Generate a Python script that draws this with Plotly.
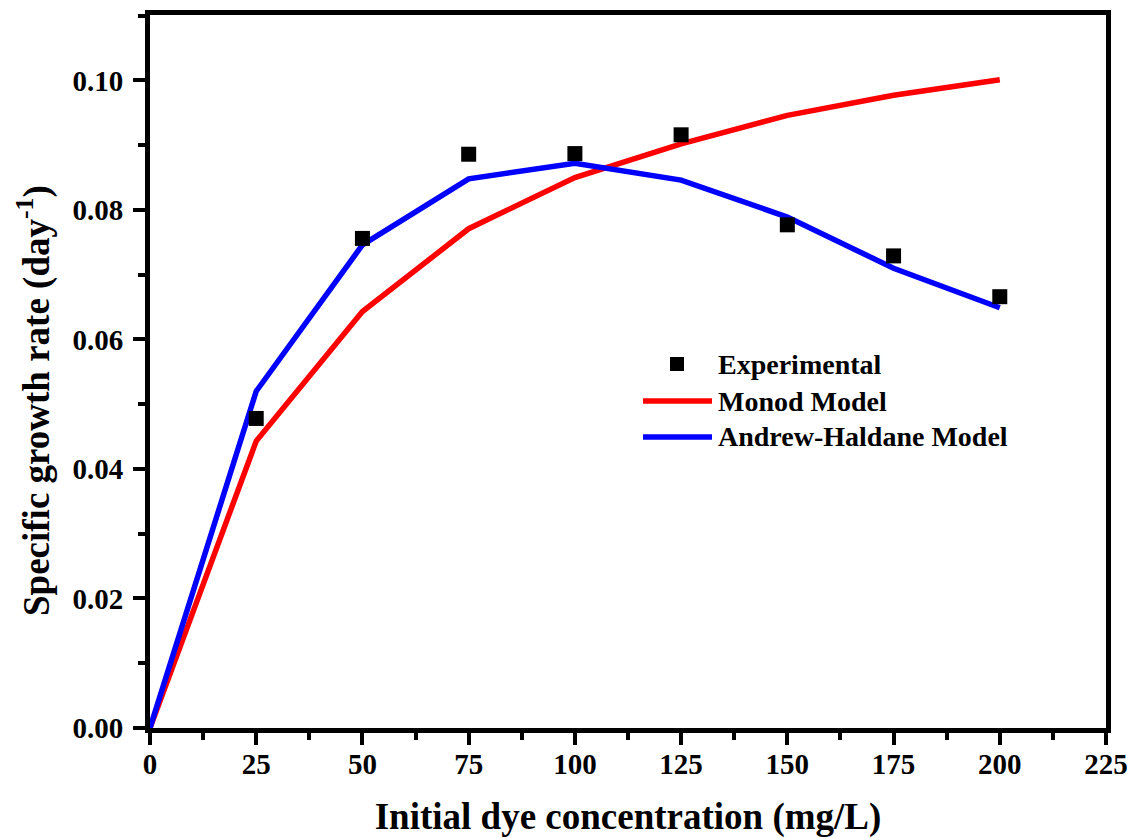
import plotly.graph_objects as go

# Initial dye concentration (mg/L)
conc_exp = [25, 50, 75, 100, 125, 150, 175, 200]
# Measured specific growth rate (day^-1)
mu_exp = [0.0478, 0.0756, 0.0886, 0.0887, 0.0916, 0.0777, 0.0729, 0.0666]

# Model curves
conc_model = [0, 25, 50, 75, 100, 125, 150, 175, 200]
mu_monod = [0.0, 0.0443, 0.0643, 0.0771, 0.0850, 0.0902, 0.0946, 0.0977, 0.1001]
mu_haldane = [0.0, 0.0520, 0.0746, 0.0848, 0.0872, 0.0846, 0.0789, 0.0710, 0.0649]

x_ticks = [0, 25, 50, 75, 100, 125, 150, 175, 200, 225]
y_ticks = [0.00, 0.02, 0.04, 0.06, 0.08, 0.10]

legend_names = ["Experimental", "Monod Model", "Andrew-Haldane Model"]

FONT = "Liberation Serif, Times New Roman, serif"
RED = "#ff0000"
BLUE = "#0000ff"

fig = go.Figure()

fig.add_trace(go.Scatter(
    x=conc_model, y=mu_monod, mode="lines", name=legend_names[1],
    line=dict(color=RED, width=5.5), showlegend=False,
))
fig.add_trace(go.Scatter(
    x=conc_model, y=mu_haldane, mode="lines", name=legend_names[2],
    line=dict(color=BLUE, width=5.5), showlegend=False,
))
fig.add_trace(go.Scatter(
    x=conc_exp, y=mu_exp, mode="markers", name=legend_names[0],
    marker=dict(symbol="square", size=15, color="black"), showlegend=False,
))

# Legend box and y title placed in paper coordinates (plot area: 956 x 713 px)
W, H = 956.0, 713.0
def px(xp):
    return (xp - 150) / W
def py(yp):
    return (728 - yp) / H

rows_y = [364, 401, 437]
key_x0, key_x1, text_x = 643, 712, 716

shapes = [
    dict(type="rect", xref="paper", yref="paper",
         x0=px(670), x1=px(684), y0=py(rows_y[0] + 7), y1=py(rows_y[0] - 7),
         fillcolor="black", line=dict(width=0)),
    dict(type="line", xref="paper", yref="paper",
         x0=px(key_x0), x1=px(key_x1), y0=py(rows_y[1]), y1=py(rows_y[1]),
         line=dict(color=RED, width=5.5)),
    dict(type="line", xref="paper", yref="paper",
         x0=px(key_x0), x1=px(key_x1), y0=py(rows_y[2]), y1=py(rows_y[2]),
         line=dict(color=BLUE, width=5.5)),
]
annotations = [
    dict(xref="paper", yref="paper", x=px(text_x), y=py(ry), text=name,
         xanchor="left", yanchor="middle", showarrow=False,
         font=dict(family=FONT, size=28, color="black", weight="bold"))
    for name, ry in zip(legend_names, rows_y)
]
annotations.append(dict(
    xref="paper", yref="paper", x=px(34), y=py(401),
    text="Specific growth rate (day<sup>-1</sup>)", textangle=-90,
    xanchor="center", yanchor="middle", showarrow=False,
    font=dict(family=FONT, size=37, color="black", weight="bold"),
))

axis_common = dict(
    showline=True, linecolor="black", linewidth=5, mirror=True,
    showgrid=False, zeroline=False, automargin=False,
    ticks="outside", ticklen=12, tickwidth=4, tickcolor="black",
    tickfont=dict(family=FONT, size=29, color="black", weight="bold"),
)

fig.update_layout(
    width=1131, height=838,
    margin=dict(l=150, r=25, t=15, b=110),
    paper_bgcolor="white", plot_bgcolor="white",
    font=dict(family=FONT, color="black"),
    shapes=shapes, annotations=annotations,
    xaxis=dict(
        **axis_common,
        range=[0, 225], tickmode="array", tickvals=x_ticks,
        ticktext=[str(v) for v in x_ticks],
        minor=dict(dtick=12.5, tick0=0, ticks="outside", ticklen=7,
                   tickwidth=4, tickcolor="black", showgrid=False),
        ticklabelstandoff=-6,
        title=dict(text="Initial dye concentration (mg/L)", standoff=34,
                   font=dict(family=FONT, size=37, color="black", weight="bold")),
    ),
    yaxis=dict(
        **axis_common,
        range=[0, 0.1101], tickmode="array", tickvals=y_ticks,
        ticktext=[f"{v:.2f}" for v in y_ticks],
        minor=dict(dtick=0.01, tick0=0, ticks="outside", ticklen=7,
                   tickwidth=4, tickcolor="black", showgrid=False),
        ticklabelstandoff=4,
    ),
)

fig.write_html("out.html")
